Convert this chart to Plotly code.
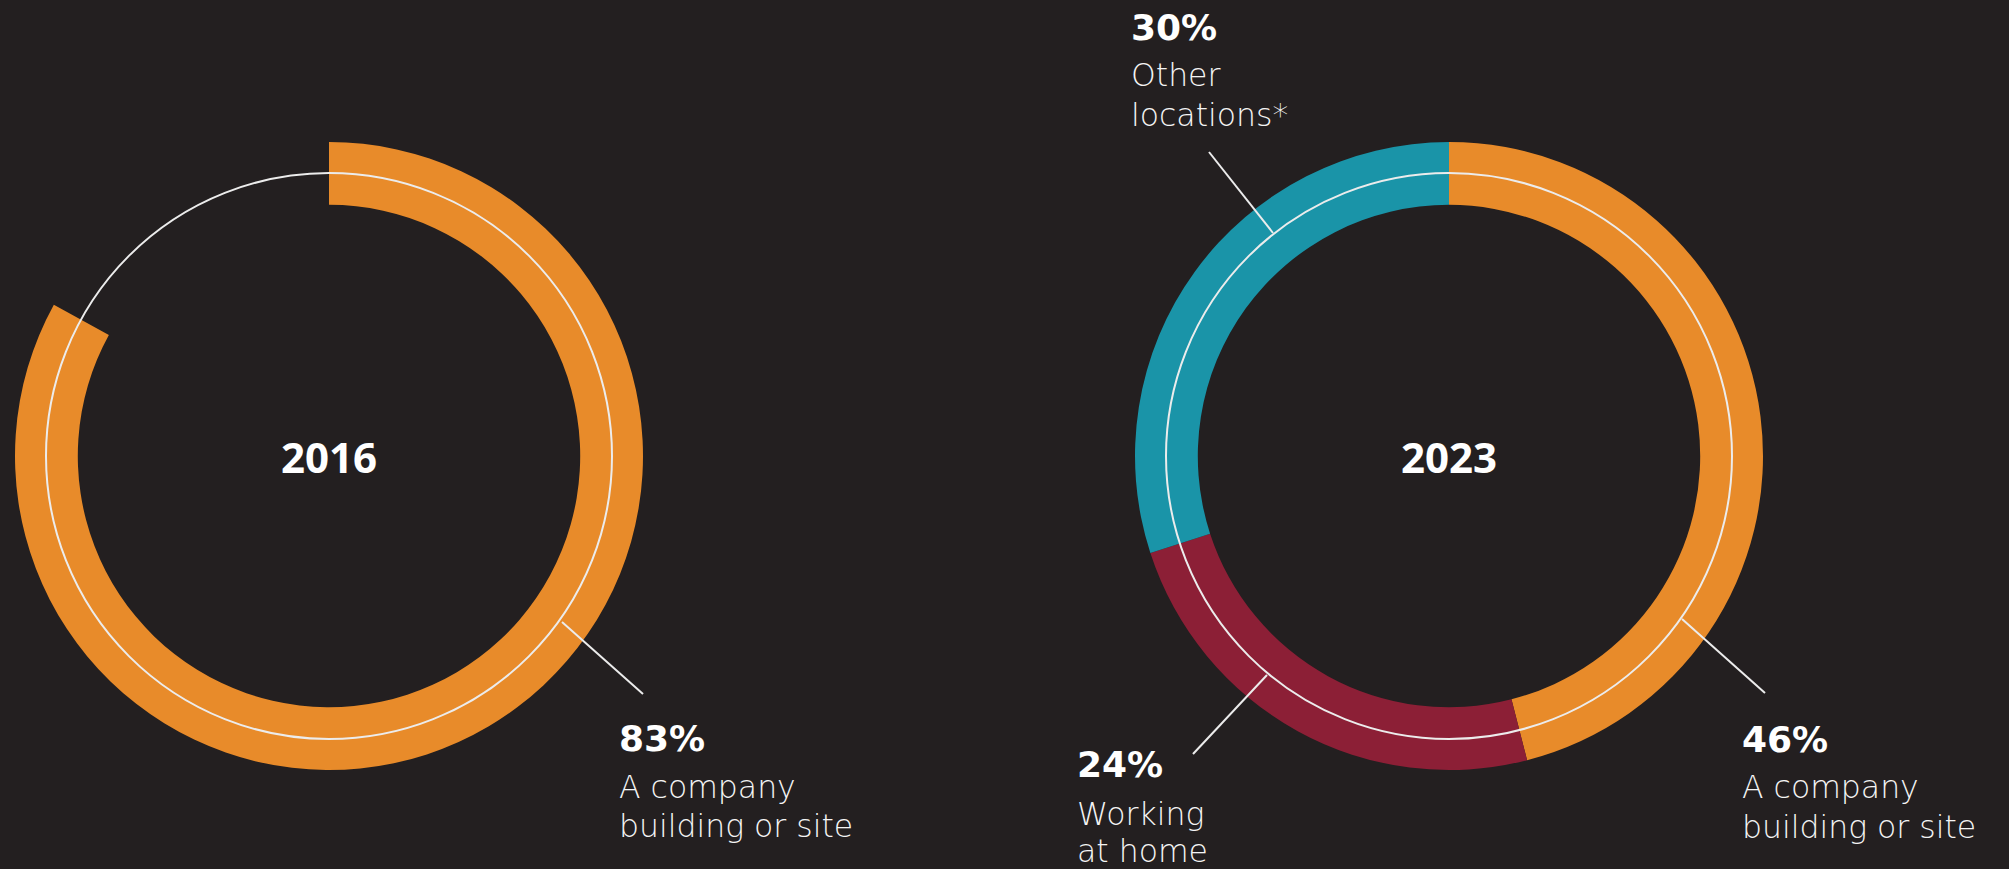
import plotly.graph_objects as go

# ---- data -------------------------------------------------------------
years = ["2016", "2023"]

locations_2016 = ["A company building or site", "Other"]
shares_2016 = [83, 17]

locations_2023 = ["A company building or site", "Working at home", "Other locations*"]
shares_2023 = [46, 24, 30]

# ---- styling ----------------------------------------------------------
W, H = 2009, 869
BG = "#231f20"
ORANGE = "#e88b2a"
MAROON = "#8c1f36"
TEAL = "#1a94a8"
LINE = "#ececec"
TXT = "#f4f4f4"
YEAR_FONT = "Open Sans"
PCT_FONT = "DejaVu Sans"
DESC_FONT = "DejaVu Sans"

R_OUT = 314
HOLE = 0.80
R_MID = 283

centers = {"2016": (329, 456), "2023": (1449, 456)}


def pie_domain(cx, cy, r):
    return dict(
        x=[(cx - r) / W, (cx + r) / W],
        y=[(H - cy - r) / H, (H - cy + r) / H],
    )


fig = go.Figure()

fig.add_trace(go.Pie(
    labels=locations_2016,
    values=shares_2016,
    marker=dict(colors=[ORANGE, "rgba(0,0,0,0)"], line=dict(width=0)),
    hole=HOLE,
    sort=False,
    direction="clockwise",
    rotation=0,
    textinfo="none",
    hoverinfo="label+percent",
    showlegend=False,
    domain=pie_domain(*centers["2016"], R_OUT),
))

fig.add_trace(go.Pie(
    labels=locations_2023,
    values=shares_2023,
    marker=dict(colors=[ORANGE, MAROON, TEAL], line=dict(width=0)),
    hole=HOLE,
    sort=False,
    direction="clockwise",
    rotation=0,
    textinfo="none",
    hoverinfo="label+percent",
    showlegend=False,
    domain=pie_domain(*centers["2023"], R_OUT),
))

shapes = []
# thin white guide circle through the middle of each ring
for cx, cy in centers.values():
    shapes.append(dict(
        type="circle", xref="x", yref="y",
        x0=cx - R_MID, x1=cx + R_MID, y0=cy - R_MID, y1=cy + R_MID,
        line=dict(color=LINE, width=2), layer="above",
    ))

# leader lines from ring to callout
leaders = [
    (562, 622, 643, 694),
    (1682, 619, 1765, 693),
    (1267, 675, 1193, 754),
    (1273, 233, 1209, 152),
]
for x0, y0, x1, y1 in leaders:
    shapes.append(dict(
        type="line", xref="x", yref="y", x0=x0, y0=y0, x1=x1, y1=y1,
        line=dict(color=LINE, width=2), layer="above",
    ))

annotations = []
for yr in years:
    cx, cy = centers[yr]
    annotations.append(dict(
        x=cx, y=cy, xref="x", yref="y", text=yr, showarrow=False,
        xanchor="center", yanchor="middle",
        font=dict(family=YEAR_FONT, size=42, color="white", weight=700),
    ))


def text_line(x, top, text, family, size, color, weight):
    return dict(
        x=x, y=top, xref="x", yref="y", text=text, showarrow=False,
        xanchor="left", yanchor="top", align="left",
        font=dict(family=family, size=size, color=color, weight=weight),
    )


callouts = [
    # (x, top of percent line, percent, description lines, top of each description line)
    (617, 716, f"{shares_2016[0]}%", ["A company", "building or site"], [767, 806]),
    (1740, 717, f"{shares_2023[0]}%", ["A company", "building or site"], [767, 807]),
    (1075, 742, f"{shares_2023[1]}%", ["Working", "at home"], [794, 831]),
    (1129, 5, f"{shares_2023[2]}%", ["Other", "locations*"], [55, 95]),
]
for x, ptop, pct, lines, tops in callouts:
    annotations.append(text_line(x, ptop, pct, PCT_FONT, 36, "white", 700))
    for ln, t in zip(lines, tops):
        annotations.append(text_line(x, t, ln, DESC_FONT, 31.5, TXT, 200))

fig.update_layout(
    width=W, height=H,
    margin=dict(l=0, r=0, t=0, b=0),
    paper_bgcolor=BG, plot_bgcolor=BG,
    xaxis=dict(range=[0, W], visible=False, fixedrange=True),
    yaxis=dict(range=[H, 0], visible=False, fixedrange=True),
    shapes=shapes,
    annotations=annotations,
)

fig.write_html("out.html")
